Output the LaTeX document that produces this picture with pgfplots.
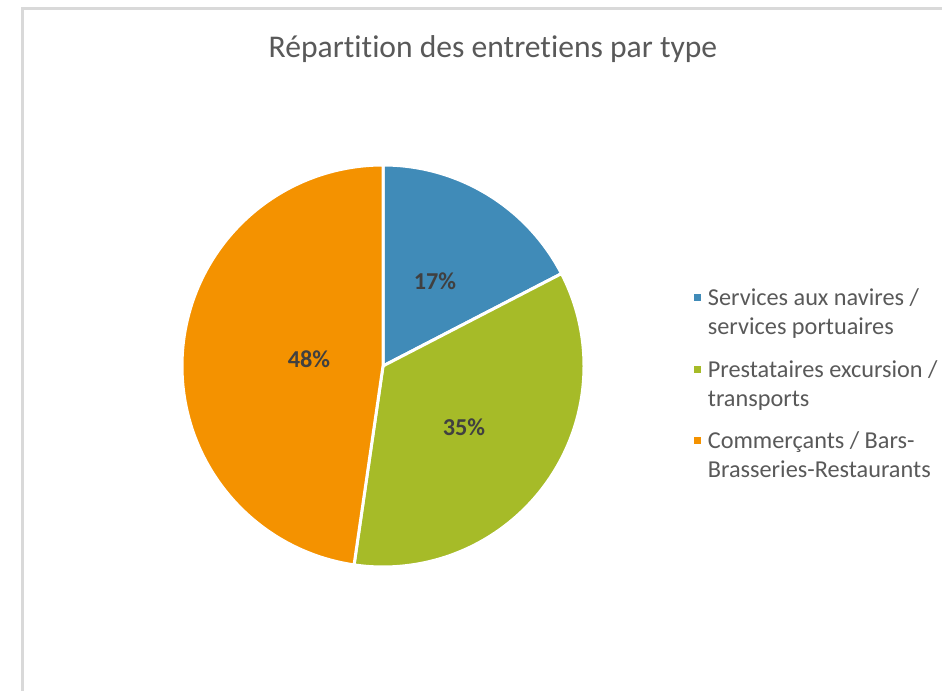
\documentclass[border=0pt]{standalone}
\usepackage{pgfplots}
\usepackage{pgfplotstable}
\pgfplotsset{compat=1.18}
\usepackage{fontspec}
\setmainfont{Carlito}[Ligatures=NoCommon]
\definecolor{cA}{RGB}{64,139,184}
\definecolor{cB}{RGB}{166,187,40}
\definecolor{cC}{RGB}{244,146,0}
\definecolor{txt}{RGB}{89,89,89}
\definecolor{lab}{RGB}{64,64,64}
\definecolor{frame}{RGB}{217,217,217}
\pgfplotstableread{
share
17.4
34.9
47.7
}\piedata
\begin{document}
\begin{tikzpicture}
\useasboundingbox[fill=white] (0,0) rectangle (706.5pt,518.25pt);
\draw[frame, line width=2.25pt] (16.5pt,0) |- (706.5pt,511.5pt);
\pgfplotstablegetelem{0}{share}\of\piedata \let\va\pgfplotsretval
\pgfplotstablegetelem{1}{share}\of\piedata \let\vb\pgfplotsretval
\pgfplotstablegetelem{2}{share}\of\piedata \let\vc\pgfplotsretval
\pgfmathsetmacro{\aA}{90}
\pgfmathsetmacro{\aB}{90-3.6*\va}
\pgfmathsetmacro{\aC}{\aB-3.6*\vb}
\pgfmathsetmacro{\aD}{\aC-3.6*\vc}
\begin{axis}[at={(0,0)}, anchor=south west, x=0.75pt, y=0.75pt,
  xmin=0, xmax=942, ymin=0, ymax=691, enlargelimits=false,
  hide axis, clip=false,
  legend image code/.code={\fill[#1, draw=none] (0pt,8.65pt) rectangle (5.2pt,13.85pt);},
  legend style={at={(axis cs:690,405)}, anchor=north west, draw=none, fill=none,
    font=\fontsize{18.2}{21.8}\selectfont, text=txt,
    nodes={inner sep=0pt, align=left}, column sep=5pt, row sep=17.5pt},
  legend cell align=left,
]
\addplot[fill=cA, draw=white, line width=2.25pt, domain=\aB:\aA, samples=80, variable=\t]
  ({383+201*cos(\t)}, {325+201*sin(\t)}) -- (axis cs:383,325) -- cycle;
\addlegendentry{Services aux navires /\\services portuaires}
\addplot[fill=cB, draw=white, line width=2.25pt, domain=\aC:\aB, samples=120, variable=\t]
  ({383+201*cos(\t)}, {325+201*sin(\t)}) -- (axis cs:383,325) -- cycle;
\addlegendentry{Prestataires excursion /\\transports}
\addplot[fill=cC, draw=white, line width=2.25pt, domain=\aD:\aC, samples=160, variable=\t]
  ({383+201*cos(\t)}, {325+201*sin(\t)}) -- (axis cs:383,325) -- cycle;
\addlegendentry{Commerçants / Bars-\\Brasseries-Restaurants}
\node[anchor=base, text=txt, font=\fontsize{23.7}{28}\selectfont, inner sep=0pt] at (axis cs:493,633) {Répartition des entretiens par type};
\node[anchor=base, text=lab, font=\bfseries\fontsize{18.2}{21.8}\selectfont, inner sep=0pt] at (axis cs:435,401) {17\%};
\node[anchor=base, text=lab, font=\bfseries\fontsize{18.2}{21.8}\selectfont, inner sep=0pt] at (axis cs:464,255) {35\%};
\node[anchor=base, text=lab, font=\bfseries\fontsize{18.2}{21.8}\selectfont, inner sep=0pt] at (axis cs:309,323) {48\%};
\end{axis}
\end{tikzpicture}
\end{document}
